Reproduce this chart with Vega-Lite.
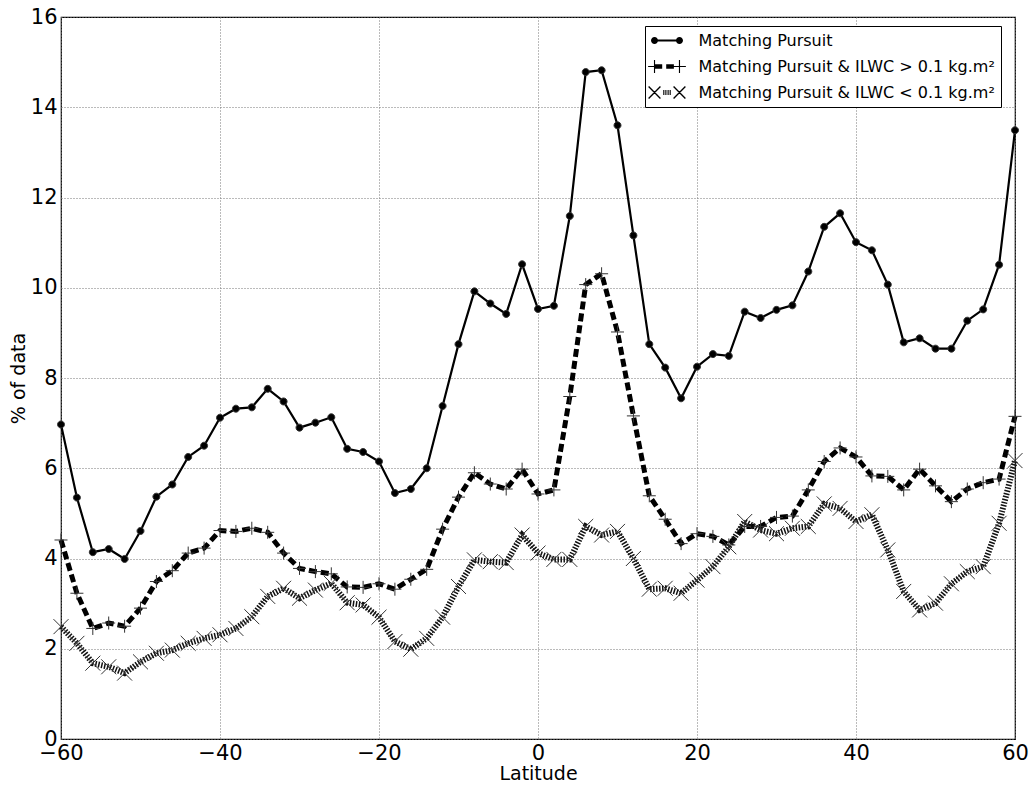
{
  "$schema": "https://vega.github.io/schema/vega-lite/v6.json",
  "autosize": {"type": "none"},
  "padding": {"left": 61, "top": 17, "right": 19, "bottom": 49},
  "width": 954,
  "height": 722,
  "background": "white",
  "config": {
    "font": "DejaVu Sans",
    "view": {"stroke": "black", "strokeWidth": 1.2},
    "axis": {
      "labelFont": "DejaVu Sans", "labelFontSize": 21, "labelColor": "black",
      "titleFont": "DejaVu Sans", "titleFontSize": 19, "titleFontWeight": "normal", "titleColor": "black",
      "domain": false, "ticks": false,
      "gridColor": "#777", "gridDash": [1, 2], "gridWidth": 1
    }
  },
  "data": {"values": [
    {"lat": -60, "series": "Matching Pursuit", "v": 6.97},
    {"lat": -58, "series": "Matching Pursuit", "v": 5.35},
    {"lat": -56, "series": "Matching Pursuit", "v": 4.14},
    {"lat": -54, "series": "Matching Pursuit", "v": 4.21},
    {"lat": -52, "series": "Matching Pursuit", "v": 3.99},
    {"lat": -50, "series": "Matching Pursuit", "v": 4.61},
    {"lat": -48, "series": "Matching Pursuit", "v": 5.37},
    {"lat": -46, "series": "Matching Pursuit", "v": 5.64},
    {"lat": -44, "series": "Matching Pursuit", "v": 6.25},
    {"lat": -42, "series": "Matching Pursuit", "v": 6.5},
    {"lat": -40, "series": "Matching Pursuit", "v": 7.12},
    {"lat": -38, "series": "Matching Pursuit", "v": 7.32},
    {"lat": -36, "series": "Matching Pursuit", "v": 7.35},
    {"lat": -34, "series": "Matching Pursuit", "v": 7.76},
    {"lat": -32, "series": "Matching Pursuit", "v": 7.48},
    {"lat": -30, "series": "Matching Pursuit", "v": 6.9},
    {"lat": -28, "series": "Matching Pursuit", "v": 7.01},
    {"lat": -26, "series": "Matching Pursuit", "v": 7.13},
    {"lat": -24, "series": "Matching Pursuit", "v": 6.43},
    {"lat": -22, "series": "Matching Pursuit", "v": 6.36},
    {"lat": -20, "series": "Matching Pursuit", "v": 6.15},
    {"lat": -18, "series": "Matching Pursuit", "v": 5.45},
    {"lat": -16, "series": "Matching Pursuit", "v": 5.54},
    {"lat": -14, "series": "Matching Pursuit", "v": 6.0},
    {"lat": -12, "series": "Matching Pursuit", "v": 7.38},
    {"lat": -10, "series": "Matching Pursuit", "v": 8.75},
    {"lat": -8, "series": "Matching Pursuit", "v": 9.92},
    {"lat": -6, "series": "Matching Pursuit", "v": 9.65},
    {"lat": -4, "series": "Matching Pursuit", "v": 9.42},
    {"lat": -2, "series": "Matching Pursuit", "v": 10.52},
    {"lat": 0, "series": "Matching Pursuit", "v": 9.53},
    {"lat": 2, "series": "Matching Pursuit", "v": 9.6},
    {"lat": 4, "series": "Matching Pursuit", "v": 11.59},
    {"lat": 6, "series": "Matching Pursuit", "v": 14.78},
    {"lat": 8, "series": "Matching Pursuit", "v": 14.82},
    {"lat": 10, "series": "Matching Pursuit", "v": 13.6},
    {"lat": 12, "series": "Matching Pursuit", "v": 11.16},
    {"lat": 14, "series": "Matching Pursuit", "v": 8.75},
    {"lat": 16, "series": "Matching Pursuit", "v": 8.23},
    {"lat": 18, "series": "Matching Pursuit", "v": 7.55},
    {"lat": 20, "series": "Matching Pursuit", "v": 8.25},
    {"lat": 22, "series": "Matching Pursuit", "v": 8.53},
    {"lat": 24, "series": "Matching Pursuit", "v": 8.49},
    {"lat": 26, "series": "Matching Pursuit", "v": 9.47},
    {"lat": 28, "series": "Matching Pursuit", "v": 9.33},
    {"lat": 30, "series": "Matching Pursuit", "v": 9.51},
    {"lat": 32, "series": "Matching Pursuit", "v": 9.61},
    {"lat": 34, "series": "Matching Pursuit", "v": 10.36},
    {"lat": 36, "series": "Matching Pursuit", "v": 11.35},
    {"lat": 38, "series": "Matching Pursuit", "v": 11.65},
    {"lat": 40, "series": "Matching Pursuit", "v": 11.01},
    {"lat": 42, "series": "Matching Pursuit", "v": 10.83},
    {"lat": 44, "series": "Matching Pursuit", "v": 10.07},
    {"lat": 46, "series": "Matching Pursuit", "v": 8.79},
    {"lat": 48, "series": "Matching Pursuit", "v": 8.88},
    {"lat": 50, "series": "Matching Pursuit", "v": 8.65},
    {"lat": 52, "series": "Matching Pursuit", "v": 8.65},
    {"lat": 54, "series": "Matching Pursuit", "v": 9.27},
    {"lat": 56, "series": "Matching Pursuit", "v": 9.52},
    {"lat": 58, "series": "Matching Pursuit", "v": 10.51},
    {"lat": 60, "series": "Matching Pursuit", "v": 13.49},
    {"lat": -60, "series": "Matching Pursuit & ILWC > 0.1 kg.m²", "v": 4.41},
    {"lat": -58, "series": "Matching Pursuit & ILWC > 0.1 kg.m²", "v": 3.23},
    {"lat": -56, "series": "Matching Pursuit & ILWC > 0.1 kg.m²", "v": 2.45},
    {"lat": -54, "series": "Matching Pursuit & ILWC > 0.1 kg.m²", "v": 2.57},
    {"lat": -52, "series": "Matching Pursuit & ILWC > 0.1 kg.m²", "v": 2.5},
    {"lat": -50, "series": "Matching Pursuit & ILWC > 0.1 kg.m²", "v": 2.9},
    {"lat": -48, "series": "Matching Pursuit & ILWC > 0.1 kg.m²", "v": 3.49},
    {"lat": -46, "series": "Matching Pursuit & ILWC > 0.1 kg.m²", "v": 3.73},
    {"lat": -44, "series": "Matching Pursuit & ILWC > 0.1 kg.m²", "v": 4.12},
    {"lat": -42, "series": "Matching Pursuit & ILWC > 0.1 kg.m²", "v": 4.23},
    {"lat": -40, "series": "Matching Pursuit & ILWC > 0.1 kg.m²", "v": 4.62},
    {"lat": -38, "series": "Matching Pursuit & ILWC > 0.1 kg.m²", "v": 4.6},
    {"lat": -36, "series": "Matching Pursuit & ILWC > 0.1 kg.m²", "v": 4.67},
    {"lat": -34, "series": "Matching Pursuit & ILWC > 0.1 kg.m²", "v": 4.58},
    {"lat": -32, "series": "Matching Pursuit & ILWC > 0.1 kg.m²", "v": 4.12},
    {"lat": -30, "series": "Matching Pursuit & ILWC > 0.1 kg.m²", "v": 3.78},
    {"lat": -28, "series": "Matching Pursuit & ILWC > 0.1 kg.m²", "v": 3.71},
    {"lat": -26, "series": "Matching Pursuit & ILWC > 0.1 kg.m²", "v": 3.66},
    {"lat": -24, "series": "Matching Pursuit & ILWC > 0.1 kg.m²", "v": 3.37},
    {"lat": -22, "series": "Matching Pursuit & ILWC > 0.1 kg.m²", "v": 3.36},
    {"lat": -20, "series": "Matching Pursuit & ILWC > 0.1 kg.m²", "v": 3.44},
    {"lat": -18, "series": "Matching Pursuit & ILWC > 0.1 kg.m²", "v": 3.32},
    {"lat": -16, "series": "Matching Pursuit & ILWC > 0.1 kg.m²", "v": 3.54},
    {"lat": -14, "series": "Matching Pursuit & ILWC > 0.1 kg.m²", "v": 3.76},
    {"lat": -12, "series": "Matching Pursuit & ILWC > 0.1 kg.m²", "v": 4.65},
    {"lat": -10, "series": "Matching Pursuit & ILWC > 0.1 kg.m²", "v": 5.36},
    {"lat": -8, "series": "Matching Pursuit & ILWC > 0.1 kg.m²", "v": 5.9},
    {"lat": -6, "series": "Matching Pursuit & ILWC > 0.1 kg.m²", "v": 5.65},
    {"lat": -4, "series": "Matching Pursuit & ILWC > 0.1 kg.m²", "v": 5.54},
    {"lat": -2, "series": "Matching Pursuit & ILWC > 0.1 kg.m²", "v": 5.98},
    {"lat": 0, "series": "Matching Pursuit & ILWC > 0.1 kg.m²", "v": 5.43},
    {"lat": 2, "series": "Matching Pursuit & ILWC > 0.1 kg.m²", "v": 5.52},
    {"lat": 4, "series": "Matching Pursuit & ILWC > 0.1 kg.m²", "v": 7.59},
    {"lat": 6, "series": "Matching Pursuit & ILWC > 0.1 kg.m²", "v": 10.07},
    {"lat": 8, "series": "Matching Pursuit & ILWC > 0.1 kg.m²", "v": 10.31},
    {"lat": 10, "series": "Matching Pursuit & ILWC > 0.1 kg.m²", "v": 9.02},
    {"lat": 12, "series": "Matching Pursuit & ILWC > 0.1 kg.m²", "v": 7.16},
    {"lat": 14, "series": "Matching Pursuit & ILWC > 0.1 kg.m²", "v": 5.39},
    {"lat": 16, "series": "Matching Pursuit & ILWC > 0.1 kg.m²", "v": 4.87},
    {"lat": 18, "series": "Matching Pursuit & ILWC > 0.1 kg.m²", "v": 4.33},
    {"lat": 20, "series": "Matching Pursuit & ILWC > 0.1 kg.m²", "v": 4.55},
    {"lat": 22, "series": "Matching Pursuit & ILWC > 0.1 kg.m²", "v": 4.49},
    {"lat": 24, "series": "Matching Pursuit & ILWC > 0.1 kg.m²", "v": 4.3},
    {"lat": 26, "series": "Matching Pursuit & ILWC > 0.1 kg.m²", "v": 4.71},
    {"lat": 28, "series": "Matching Pursuit & ILWC > 0.1 kg.m²", "v": 4.71},
    {"lat": 30, "series": "Matching Pursuit & ILWC > 0.1 kg.m²", "v": 4.91},
    {"lat": 32, "series": "Matching Pursuit & ILWC > 0.1 kg.m²", "v": 4.94},
    {"lat": 34, "series": "Matching Pursuit & ILWC > 0.1 kg.m²", "v": 5.52},
    {"lat": 36, "series": "Matching Pursuit & ILWC > 0.1 kg.m²", "v": 6.15},
    {"lat": 38, "series": "Matching Pursuit & ILWC > 0.1 kg.m²", "v": 6.45},
    {"lat": 40, "series": "Matching Pursuit & ILWC > 0.1 kg.m²", "v": 6.25},
    {"lat": 42, "series": "Matching Pursuit & ILWC > 0.1 kg.m²", "v": 5.83},
    {"lat": 44, "series": "Matching Pursuit & ILWC > 0.1 kg.m²", "v": 5.82},
    {"lat": 46, "series": "Matching Pursuit & ILWC > 0.1 kg.m²", "v": 5.52},
    {"lat": 48, "series": "Matching Pursuit & ILWC > 0.1 kg.m²", "v": 5.98},
    {"lat": 50, "series": "Matching Pursuit & ILWC > 0.1 kg.m²", "v": 5.61},
    {"lat": 52, "series": "Matching Pursuit & ILWC > 0.1 kg.m²", "v": 5.26},
    {"lat": 54, "series": "Matching Pursuit & ILWC > 0.1 kg.m²", "v": 5.54},
    {"lat": 56, "series": "Matching Pursuit & ILWC > 0.1 kg.m²", "v": 5.68},
    {"lat": 58, "series": "Matching Pursuit & ILWC > 0.1 kg.m²", "v": 5.76},
    {"lat": 60, "series": "Matching Pursuit & ILWC > 0.1 kg.m²", "v": 7.15},
    {"lat": -60, "series": "Matching Pursuit & ILWC < 0.1 kg.m²", "v": 2.49},
    {"lat": -58, "series": "Matching Pursuit & ILWC < 0.1 kg.m²", "v": 2.12},
    {"lat": -56, "series": "Matching Pursuit & ILWC < 0.1 kg.m²", "v": 1.68},
    {"lat": -54, "series": "Matching Pursuit & ILWC < 0.1 kg.m²", "v": 1.6},
    {"lat": -52, "series": "Matching Pursuit & ILWC < 0.1 kg.m²", "v": 1.46},
    {"lat": -50, "series": "Matching Pursuit & ILWC < 0.1 kg.m²", "v": 1.71},
    {"lat": -48, "series": "Matching Pursuit & ILWC < 0.1 kg.m²", "v": 1.9},
    {"lat": -46, "series": "Matching Pursuit & ILWC < 0.1 kg.m²", "v": 1.97},
    {"lat": -44, "series": "Matching Pursuit & ILWC < 0.1 kg.m²", "v": 2.12},
    {"lat": -42, "series": "Matching Pursuit & ILWC < 0.1 kg.m²", "v": 2.23},
    {"lat": -40, "series": "Matching Pursuit & ILWC < 0.1 kg.m²", "v": 2.31},
    {"lat": -38, "series": "Matching Pursuit & ILWC < 0.1 kg.m²", "v": 2.45},
    {"lat": -36, "series": "Matching Pursuit & ILWC < 0.1 kg.m²", "v": 2.71},
    {"lat": -34, "series": "Matching Pursuit & ILWC < 0.1 kg.m²", "v": 3.16},
    {"lat": -32, "series": "Matching Pursuit & ILWC < 0.1 kg.m²", "v": 3.34},
    {"lat": -30, "series": "Matching Pursuit & ILWC < 0.1 kg.m²", "v": 3.12},
    {"lat": -28, "series": "Matching Pursuit & ILWC < 0.1 kg.m²", "v": 3.3},
    {"lat": -26, "series": "Matching Pursuit & ILWC < 0.1 kg.m²", "v": 3.45},
    {"lat": -24, "series": "Matching Pursuit & ILWC < 0.1 kg.m²", "v": 3.02},
    {"lat": -22, "series": "Matching Pursuit & ILWC < 0.1 kg.m²", "v": 2.97},
    {"lat": -20, "series": "Matching Pursuit & ILWC < 0.1 kg.m²", "v": 2.7},
    {"lat": -18, "series": "Matching Pursuit & ILWC < 0.1 kg.m²", "v": 2.16},
    {"lat": -16, "series": "Matching Pursuit & ILWC < 0.1 kg.m²", "v": 1.99},
    {"lat": -14, "series": "Matching Pursuit & ILWC < 0.1 kg.m²", "v": 2.23},
    {"lat": -12, "series": "Matching Pursuit & ILWC < 0.1 kg.m²", "v": 2.7},
    {"lat": -10, "series": "Matching Pursuit & ILWC < 0.1 kg.m²", "v": 3.38},
    {"lat": -8, "series": "Matching Pursuit & ILWC < 0.1 kg.m²", "v": 3.97},
    {"lat": -6, "series": "Matching Pursuit & ILWC < 0.1 kg.m²", "v": 3.93},
    {"lat": -4, "series": "Matching Pursuit & ILWC < 0.1 kg.m²", "v": 3.91},
    {"lat": -2, "series": "Matching Pursuit & ILWC < 0.1 kg.m²", "v": 4.52},
    {"lat": 0, "series": "Matching Pursuit & ILWC < 0.1 kg.m²", "v": 4.12},
    {"lat": 2, "series": "Matching Pursuit & ILWC < 0.1 kg.m²", "v": 3.98},
    {"lat": 4, "series": "Matching Pursuit & ILWC < 0.1 kg.m²", "v": 3.98},
    {"lat": 6, "series": "Matching Pursuit & ILWC < 0.1 kg.m²", "v": 4.71},
    {"lat": 8, "series": "Matching Pursuit & ILWC < 0.1 kg.m²", "v": 4.52},
    {"lat": 10, "series": "Matching Pursuit & ILWC < 0.1 kg.m²", "v": 4.6},
    {"lat": 12, "series": "Matching Pursuit & ILWC < 0.1 kg.m²", "v": 4.0},
    {"lat": 14, "series": "Matching Pursuit & ILWC < 0.1 kg.m²", "v": 3.32},
    {"lat": 16, "series": "Matching Pursuit & ILWC < 0.1 kg.m²", "v": 3.34},
    {"lat": 18, "series": "Matching Pursuit & ILWC < 0.1 kg.m²", "v": 3.23},
    {"lat": 20, "series": "Matching Pursuit & ILWC < 0.1 kg.m²", "v": 3.52},
    {"lat": 22, "series": "Matching Pursuit & ILWC < 0.1 kg.m²", "v": 3.82},
    {"lat": 24, "series": "Matching Pursuit & ILWC < 0.1 kg.m²", "v": 4.26},
    {"lat": 26, "series": "Matching Pursuit & ILWC < 0.1 kg.m²", "v": 4.82},
    {"lat": 28, "series": "Matching Pursuit & ILWC < 0.1 kg.m²", "v": 4.63},
    {"lat": 30, "series": "Matching Pursuit & ILWC < 0.1 kg.m²", "v": 4.55},
    {"lat": 32, "series": "Matching Pursuit & ILWC < 0.1 kg.m²", "v": 4.67},
    {"lat": 34, "series": "Matching Pursuit & ILWC < 0.1 kg.m²", "v": 4.71},
    {"lat": 36, "series": "Matching Pursuit & ILWC < 0.1 kg.m²", "v": 5.21},
    {"lat": 38, "series": "Matching Pursuit & ILWC < 0.1 kg.m²", "v": 5.11},
    {"lat": 40, "series": "Matching Pursuit & ILWC < 0.1 kg.m²", "v": 4.82},
    {"lat": 42, "series": "Matching Pursuit & ILWC < 0.1 kg.m²", "v": 4.97},
    {"lat": 44, "series": "Matching Pursuit & ILWC < 0.1 kg.m²", "v": 4.19},
    {"lat": 46, "series": "Matching Pursuit & ILWC < 0.1 kg.m²", "v": 3.27},
    {"lat": 48, "series": "Matching Pursuit & ILWC < 0.1 kg.m²", "v": 2.86},
    {"lat": 50, "series": "Matching Pursuit & ILWC < 0.1 kg.m²", "v": 3.01},
    {"lat": 52, "series": "Matching Pursuit & ILWC < 0.1 kg.m²", "v": 3.44},
    {"lat": 54, "series": "Matching Pursuit & ILWC < 0.1 kg.m²", "v": 3.71},
    {"lat": 56, "series": "Matching Pursuit & ILWC < 0.1 kg.m²", "v": 3.82},
    {"lat": 58, "series": "Matching Pursuit & ILWC < 0.1 kg.m²", "v": 4.78},
    {"lat": 60, "series": "Matching Pursuit & ILWC < 0.1 kg.m²", "v": 6.17}
  ]},
  "encoding": {
    "x": {"field": "lat", "type": "quantitative", "title": "Latitude",
      "scale": {"domain": [-60, 60], "nice": false, "zero": false},
      "axis": {"values": [-60, -40, -20, 0, 20, 40, 60], "labelPadding": 3, "titlePadding": 1, "labelFlush": false}},
    "y": {"field": "v", "type": "quantitative", "title": "% of data",
      "scale": {"domain": [0, 16], "nice": false},
      "axis": {"values": [0, 2, 4, 6, 8, 10, 12, 14, 16], "labelPadding": 4, "titlePadding": 2, "labelFlush": false}}
  },
  "layer": [
    {
      "transform": [{"filter": "datum.series === 'Matching Pursuit'"}],
      "mark": {"type": "line", "color": "black", "strokeWidth": 2.2}
    },
    {
      "transform": [{"filter": "indexof(datum.series, '>') >= 0"}],
      "mark": {"type": "line", "color": "black", "strokeWidth": 5, "strokeDash": [8, 4]}
    },
    {
      "transform": [{"filter": "indexof(datum.series, '<') >= 0"}],
      "mark": {"type": "line", "color": "#111", "strokeWidth": 6, "strokeDash": [1.5, 1.5]}
    },
    {
      "mark": {"type": "point", "filled": true, "fill": "black", "stroke": "#333", "strokeWidth": 1, "opacity": 1, "size": 196},
      "encoding": {
        "shape": {
          "condition": [
            {"test": "datum.series === 'Matching Pursuit'", "value": "M-0.5,0A0.5,0.5 0 1,0 0.5,0A0.5,0.5 0 1,0 -0.5,0Z"},
            {"test": "indexof(datum.series, '>') >= 0", "value": "M-0.93,0H0.93M0,-0.93V0.93"}
          ],
          "value": "M-1.07,-1.07L1.07,1.07M-1.07,1.07L1.07,-1.07"
        }
      }
    },
    {
      "mark": {"type": "point", "filled": false, "fill": "black", "stroke": "#222", "strokeWidth": 1, "opacity": 0, "size": 256},
      "encoding": {
        "shape": {"field": "series", "type": "nominal", "title": null,
          "scale": {"domain": ["Matching Pursuit", "Matching Pursuit & ILWC > 0.1 kg.m²", "Matching Pursuit & ILWC < 0.1 kg.m²"],
            "range": [
              "M-1.56,-0.12H1.56V0.12H-1.56Z M-2,0A0.44,0.44 0 1,1 -1.12,0A0.44,0.44 0 1,1 -2,0Z M1.12,0A0.44,0.44 0 1,1 2,0A0.44,0.44 0 1,1 1.12,0Z",
              "M-1.56,-0.28H-0.6V0.28H-1.56Z M-0.1,-0.28H0.86V0.28H-0.1Z M-2.36,-0.07H-0.76V0.07H-2.36Z M-1.63,-0.8H-1.49V0.8H-1.63Z M0.76,-0.07H2.36V0.07H0.76Z M1.49,-0.8H1.63V0.8H1.49Z",
              "M-2.24,-0.8L-0.76,0.68L-0.88,0.8L-2.36,-0.68Z M-2.24,0.8L-2.36,0.68L-0.88,-0.8L-0.76,-0.68Z M0.88,-0.8L2.36,0.68L2.24,0.8L0.76,-0.68Z M0.88,0.8L0.76,0.68L2.24,-0.8L2.36,-0.68Z M-0.47,-0.3H-0.33V0.3H-0.47Z M-0.21,-0.3H-0.07V0.3H-0.21Z M0.07,-0.3H0.21V0.3H0.07Z M0.33,-0.3H0.47V0.3H0.33Z"
            ]},
          "legend": {
            "orient": "none", "legendX": 584, "legendY": 9,
            "strokeColor": "black", "fillColor": "white", "padding": 6, "cornerRadius": 0,
            "labelFont": "DejaVu Sans", "labelFontSize": 16, "labelColor": "black", "labelLimit": 400,
            "symbolSize": 256, "symbolOffset": 7.5, "labelOffset": 23, "rowPadding": 9,
            "symbolOpacity": 1, "symbolFillColor": "black", "symbolStrokeColor": "#222", "symbolStrokeWidth": 1,
            "encode": {"symbols": {"stroke": {"value": "#222"}, "fill": {"value": "black"}}}
          }}
      }
    }
  ]
}
